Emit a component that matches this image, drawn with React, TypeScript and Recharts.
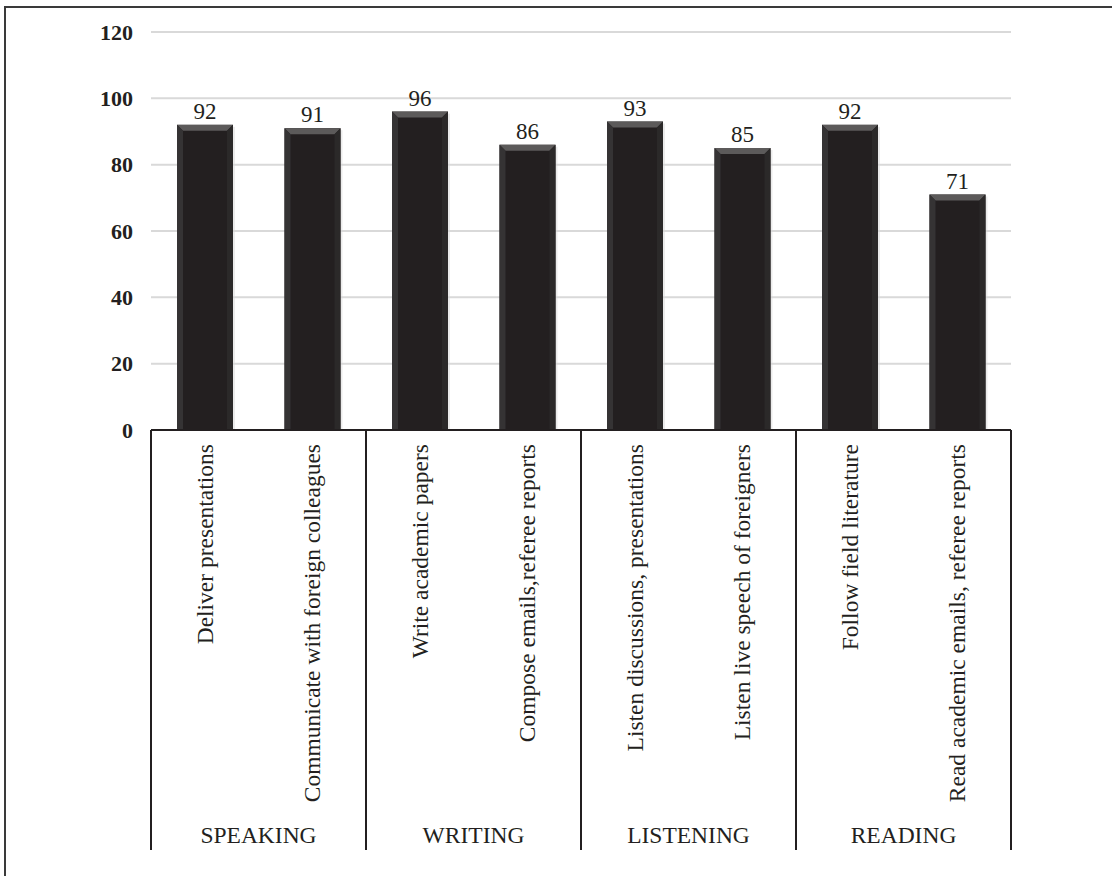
import { BarChart, Bar, XAxis, YAxis, CartesianGrid, LabelList } from 'recharts';

const skills = [
  'Deliver presentations',
  'Communicate with foreign colleagues',
  'Write academic papers',
  'Compose emails,referee reports',
  'Listen discussions, presentations',
  'Listen live speech of foreigners',
  'Follow field literature',
  'Read academic emails, referee reports',
];
const groups = ['SPEAKING', 'WRITING', 'LISTENING', 'READING'];
const percents = [92, 91, 96, 86, 93, 85, 92, 71];
const yTicks = [0, 20, 40, 60, 80, 100, 120];

const data = skills.map((skill, i) => ({ skill, value: percents[i] }));

const FONT = '"Liberation Serif", "Times New Roman", serif';

function BevelBar(props: any) {
  const { x, y, width, height } = props;
  if (!height || height <= 0) return null;
  const b = 6;
  return (
    <g>
      <rect x={x + 2} y={y + 2} width={width} height={height - 2} fill="#d8d8d8" opacity={0.5} />
      <rect x={x} y={y} width={width} height={height} fill="#231f20" />
      <polygon
        points={`${x},${y} ${x + width},${y} ${x + width - b},${y + b} ${x + b},${y + b}`}
        fill="#5c5a5a"
      />
      <polygon
        points={`${x},${y} ${x + b},${y + b} ${x + b},${y + height} ${x},${y + height}`}
        fill="#353334"
      />
      <polygon
        points={`${x + width},${y} ${x + width - b},${y + b} ${x + width - b},${y + height} ${x + width},${y + height}`}
        fill="#2b2929"
      />
    </g>
  );
}

function SkillTick(props: any) {
  const { x, y, payload } = props;
  const i = payload.index;
  const half = payload.offset || 53.75;
  const bottom = y + 420;
  return (
    <g>
      <g transform={`translate(${x},${y + 14}) rotate(-90)`}>
        <text x={0} y={0} dy="0.35em" textAnchor="end" fontFamily={FONT} fontSize={23.5} fill="#231f20">
          {payload.value}
        </text>
      </g>
      {i % 2 === 0 && (
        <>
          <line x1={x - half} y1={y} x2={x - half} y2={bottom} stroke="#231f20" strokeWidth={2} />
          <text
            x={x + half}
            y={y + 413}
            textAnchor="middle"
            fontFamily={FONT}
            fontSize={23.5}
            fill="#231f20"
          >
            {groups[i / 2]}
          </text>
        </>
      )}
      {i === skills.length - 1 && (
        <line x1={x + half} y1={y} x2={x + half} y2={bottom} stroke="#231f20" strokeWidth={2} />
      )}
    </g>
  );
}

export default function App() {
  return (
    <div style={{ position: 'fixed', left: 0, top: 0, width: 1112, height: 876, background: '#fff', overflow: 'hidden' }}>
      <div
        style={{
          position: 'absolute',
          left: 4,
          top: 6,
          width: 1200,
          height: 1000,
          borderLeft: '2px solid #3a3a3a',
          borderTop: '2px solid #3a3a3a',
        }}
      />
      <div style={{ position: 'absolute', left: 0, top: 0 }}>
        <BarChart
          width={1112}
          height={876}
          data={data}
          margin={{ top: 32, right: 101, left: 0, bottom: 0 }}
        >
          <CartesianGrid vertical={false} stroke="#d9d9d9" strokeWidth={2} />
          <XAxis
            dataKey="skill"
            height={446}
            interval={0}
            tickLine={false}
            tickSize={0}
            tickMargin={0}
            axisLine={{ stroke: '#231f20', strokeWidth: 2 }}
            tick={<SkillTick />}
          />
          <YAxis
            width={151}
            domain={[0, 120]}
            ticks={yTicks}
            axisLine={false}
            tickLine={false}
            tickSize={0}
            tickMargin={18}
            tick={{ fontFamily: FONT, fontSize: 22, fontWeight: 'bold', fill: '#231f20' }}
          />
          <Bar dataKey="value" barSize={56} shape={<BevelBar />} isAnimationActive={false}>
            <LabelList
              dataKey="value"
              position="top"
              offset={6}
              style={{ fontFamily: FONT, fontSize: 23, fill: '#231f20' }}
            />
          </Bar>
        </BarChart>
      </div>
    </div>
  );
}
